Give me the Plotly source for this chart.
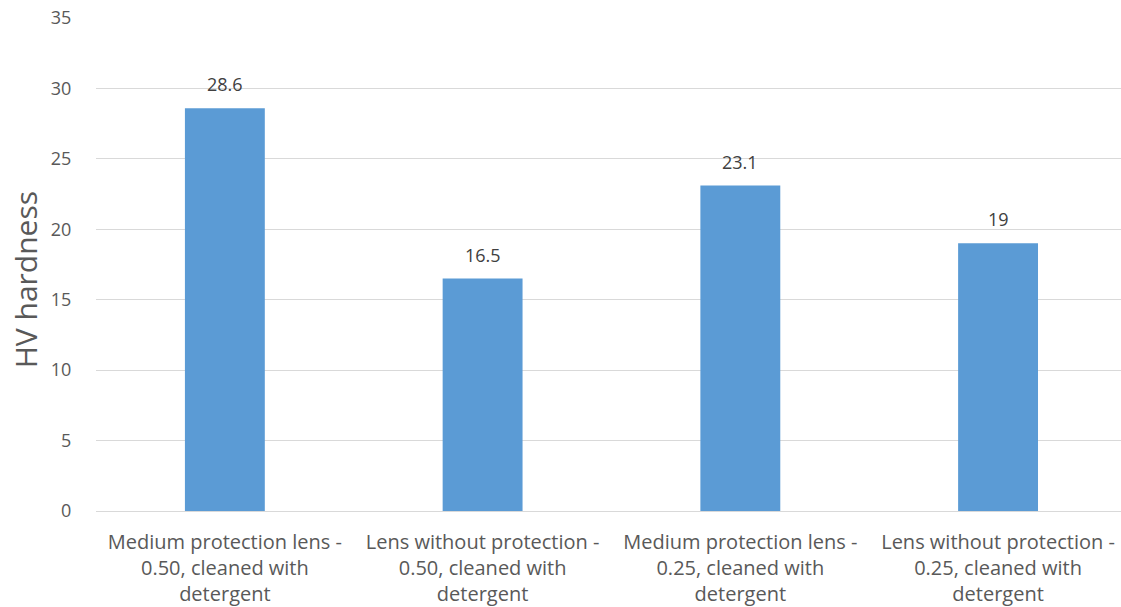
import plotly.graph_objects as go

categories = [
    "Medium protection lens -<br>0.50, cleaned with<br>detergent",
    "Lens without protection -<br>0.50, cleaned with<br>detergent",
    "Medium protection lens -<br>0.25, cleaned with<br>detergent",
    "Lens without protection -<br>0.25, cleaned with<br>detergent",
]
hardness = [28.6, 16.5, 23.1, 19]
labels = ["28.6", "16.5", "23.1", "19"]
y_ticks = [0, 5, 10, 15, 20, 25, 30, 35]

FONT = "Open Sans, Noto Sans, sans-serif"

fig = go.Figure()
fig.add_trace(go.Bar(
    x=categories,
    y=hardness,
    marker=dict(color="#5B9BD5", line=dict(width=0)),
    width=0.31,
    hoverinfo="skip",
))
for c, v, t in zip(categories, hardness, labels):
    fig.add_annotation(x=c, y=v, text=t, showarrow=False, yanchor="bottom",
                       yshift=10, font=dict(family=FONT, size=18, color="#404040"))

# y-axis title placed as a rotated annotation
fig.add_annotation(xref="paper", yref="paper", x=-0.0693, y=0.47,
                   text="HV hardness", textangle=-90, showarrow=False,
                   xanchor="center", yanchor="middle",
                   font=dict(family=FONT, size=30, color="#595959"))

fig.update_layout(
    width=1121, height=607,
    margin=dict(l=96, r=0, t=18, b=96, autoexpand=False),
    paper_bgcolor="white", plot_bgcolor="white",
    showlegend=False,
    font=dict(family=FONT, color="#595959"),
    xaxis=dict(
        range=[-0.5, 3.477],
        showgrid=False,
        showline=True, linecolor="#d9d9d9", linewidth=1,
        ticks="outside", ticklen=13, tickcolor="rgba(0,0,0,0)",
        tickfont=dict(size=20, color="#595959"),
        fixedrange=True,
    ),
    yaxis=dict(
        range=[0, 35],
        tickvals=y_ticks,
        showgrid=True, gridcolor="#d9d9d9", gridwidth=1,
        zeroline=False, showline=False,
        ticks="outside", ticklen=20, tickcolor="rgba(0,0,0,0)",
        tickfont=dict(size=18, color="#595959"),
        fixedrange=True,
    ),
)
fig.write_html("out.html")
